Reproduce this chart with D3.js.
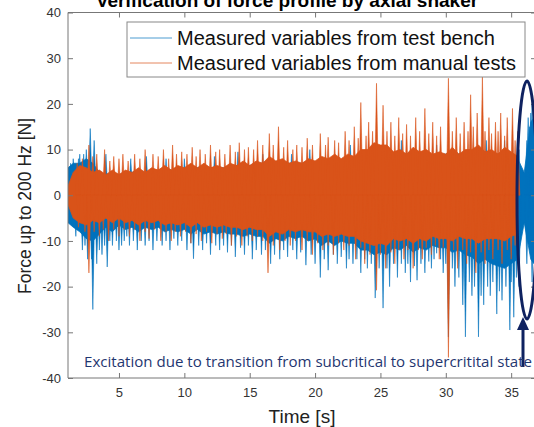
<!DOCTYPE html>
<html><head><meta charset="utf-8">
<script src="https://cdn.jsdelivr.net/npm/d3@7"></script>
<style>
html,body{margin:0;padding:0;background:#fff;overflow:hidden}
text{font-family:"Liberation Sans",Arial,sans-serif}
</style></head>
<body><svg id="c" width="534" height="427"></svg>
<script>
// ---------- data ----------
const xTicks = [5, 10, 15, 20, 25, 30, 35];
const yTicks = [-40, -30, -20, -10, 0, 10, 20, 30, 40];
const seriesNames = ["Measured variables from test bench", "Measured variables from manual tests"];

// envelope sample times [s]
const envTime = [1.1,1.5,2,2.5,3,3.5,4,4.5,5,5.5,6,6.5,7,7.5,8,8.5,9,9.5,10,10.5,11,11.5,12,12.5,13,13.5,14,14.5,15,15.5,16,16.5,17,17.5,18,18.5,19,19.5,20,20.5,21,21.5,22,22.5,23,23.5,24,24.5,25,25.5,26,26.5,27,27.5,28,28.5,29,29.5,30,30.5,31,31.5,32,32.5,33,33.5,34,34.5,35,35.5,36,36.5,37];

// test bench (blue) dense band
const benchUpper = [6,7,7,8,7,5,4.5,5,4.5,5, 5,5.5,5,5.5,5,6,5.5,6,5.5,6.5, 6,6.5,6,6,6,6.5,6.5,7,6.5,7, 7,8,7,7.5,7,7,7,7.5,7,8, 7.5,8.5,7.5,8.5,8,9,9.5,10.5,10.5,10, 9,9.5,9,10,9,9.5,8.5,9,9,10, 9,9.5,9.5,10.5,9.5,9.5,9,10,9,8, 5,16,18];
const benchLower = [-6,-7,-8,-9.5,-10,-8.5,-7,-8,-6.5,-7.5, -7,-8,-7,-7.5,-7,-8,-7.5,-8,-7.5,-8.5, -7.5,-8.5,-8,-8.5,-8,-8.5,-8.5,-9,-8.5,-9, -9,-10.5,-9.5,-10,-9,-9.5,-9,-10,-9.5,-11, -10,-11,-10,-10.5,-10.5,-12,-12,-13,-12.5,-13, -11.5,-12,-11,-12.5,-11.5,-12,-11,-11.5,-11.5,-12.5, -12,-13,-13.5,-15,-14,-15,-15.5,-16,-15,-14, -6,-14,-16];
// manual tests (orange) dense band
const manualUpper = [2,5,6.5,6,5,5.5,4.5,5.5,4.5,5.5, 5,6,5,6,5.5,6.5,5.5,6.5,6,7, 6,7,6,6.5,6,7,6.5,7.5,6.5,7.5, 7,8.5,7.5,8,7,7.5,7,8,7.5,8.5, 8,9,8,9,8.5,10,10,11.5,11,11, 9.5,10,9,10.5,9.5,10,9,9.5,9,10.5, 9,10,10,11,9.5,10,9,10.5,9.5,8.5, null,null,null];
const manualLower = [-2,-5,-6,-6.5,-5.5,-6,-5,-6,-5,-6, -5.5,-6.5,-5.5,-6,-5.5,-6.5,-6,-6.5,-6,-7, -6,-7,-6.5,-7,-6.5,-7,-7,-7.5,-7,-7.5, -7.5,-9,-8,-8.5,-7.5,-8,-7.5,-8,-8,-9, -8.5,-9,-8.5,-9,-9,-10,-10.5,-11,-10.5,-11, -9.5,-10,-9.5,-10.5,-9.5,-10,-9,-9.5,-9.5,-10, -9,-9.5,-9.5,-10.5,-9.5,-9.5,-9.5,-10,-9,-8.5, null,null,null];

// individual peaks [time, value]
const benchPeaks = [[1.3,7],[1.5,8],[1.9,8],[2.0,9],[2.3,9],[2.5,10],[2.8,14.6],[3.1,12],[4.0,9],[5.9,8],[7.1,8.5],[8.6,8],[10.0,8],[12.3,8.5],[14.1,9.5],[16.0,9],[18.2,9],[19.6,10],[22.7,11],[26.6,12],[29.3,11],[33.1,12],[34.5,12],[35.6,10],[36.2,12],[36.3,17],[36.4,15],[36.5,18],[36.6,20],[36.7,17],[36.8,19],
 [1.7,-9],[2.2,-12],[2.4,-11],[2.6,-14],[2.9,-14],[3.0,-25],[3.3,-15],[3.5,-12],[3.7,-13],[3.9,-11],[4.1,-15.7],[4.3,-10],[4.5,-11],[4.8,-10],[5.0,-12],[5.2,-11],[5.4,-10],[5.6,-9],[5.8,-11],[6.1,-10],[6.4,-12],[6.7,-10],[7.0,-11],[7.3,-10],[7.6,-12],[7.9,-10],[8.3,-11],[8.6,-10],[8.9,-12],[9.2,-9.5],[9.5,-11],[9.8,-10],[10.2,-12],[10.5,-10.5],[10.7,-13.9],[11.1,-11],[11.4,-12],[11.7,-10.5],[12.0,-13],[12.4,-11],[12.7,-12],[13.0,-11],[13.3,-12.5],[13.6,-11],[13.9,-13.5],[14.3,-11.5],[14.6,-13],[14.9,-11],[15.2,-14],[15.5,-12],[15.9,-13],[16.2,-12],[16.6,-15],[16.9,-13],[17.3,-14],[17.6,-12],[17.9,-13.5],[18.3,-12],[18.6,-14],[18.9,-12.5],[19.3,-15.3],[19.7,-13],[20.0,-15],[20.4,-18],[20.7,-14],[21.0,-16.4],[21.4,-13],[21.7,-15],[22.0,-13.5],[22.4,-16],[22.6,-14],[22.9,-15],[23.2,-14],[23.5,-17],[23.8,-14],[24.0,-16],[24.3,-15],[24.6,-22.5],[24.9,-16],[25.2,-24.7],[25.5,-16],[25.7,-20],[26.0,-15],[26.3,-18],[26.6,-15],[26.9,-17],[27.1,-15],[27.3,-19],[27.6,-15.5],[27.8,-18.6],[28.1,-15],[28.4,-17],[28.7,-14.5],[28.9,-16],[29.1,-14],[29.3,-12.7],[29.6,-14],[29.8,-17],[30.0,-15],[30.2,-31],[30.5,-16],[30.7,-20],[31.0,-18],[31.3,-24],[31.5,-31],[31.8,-19],[32.0,-22],[32.2,-20],[32.5,-31],[32.7,-22],[32.9,-24],[33.2,-20],[33.4,-22],[33.6,-19],[33.9,-26],[34.1,-21],[34.3,-23],[34.6,-20],[34.9,-29.5],[35.0,-19],[35.2,-26.7],[35.4,-18],[35.6,-20],[36.2,-15],[36.6,-19],[36.8,-17]];
const manualPeaks = [[1.8,7],[2.2,8],[2.7,11],[3.0,8.5],[3.3,9],[3.9,10],[4.3,7.5],[4.6,8.5],[5.0,8],[5.3,9],[5.7,7.5],[6.2,9],[6.6,8],[7.0,10],[7.6,9],[8.0,8.5],[8.4,10],[8.8,8],[9.1,11],[9.4,9],[9.8,9.5],[10.2,9],[10.6,10.5],[10.9,8.5],[11.2,10],[11.6,9],[12.0,11],[12.4,9.5],[12.7,10],[13.1,9],[13.5,11],[13.9,9.5],[14.2,11.5],[14.6,10],[14.9,10.5],[15.3,10],[15.6,12],[16.0,11],[16.5,13.5],[16.8,11],[17.2,15],[17.6,10.5],[17.9,12],[18.3,10],[18.6,11],[19.0,10.5],[19.4,12.5],[19.8,11],[20.4,13.5],[20.8,11],[21.0,12.7],[21.5,12],[21.8,11.5],[22.3,14],[22.6,12],[23.0,15],[23.3,12.5],[23.5,20.3],[23.9,13],[24.1,16],[24.4,14],[24.7,24.5],[25.2,19.7],[25.5,14],[25.8,16],[26.1,13],[26.4,17],[26.7,13.5],[27.0,15.5],[27.3,13],[27.7,17],[28.0,14],[28.4,19],[28.7,13.5],[29.0,16],[29.3,13],[29.6,15],[30.2,25.6],[30.5,14],[30.8,17],[31.1,13.5],[31.4,16],[31.7,14],[31.9,22],[32.1,15],[32.4,18],[32.8,26],[33.0,14],[33.3,17],[33.5,13.5],[33.8,16],[34.0,14],[34.2,18],[34.5,13],[34.7,17],[35.1,19],[35.3,12],[35.5,14],
 [1.9,-7],[2.4,-8],[2.7,-17],[3.1,-8],[3.5,-9],[3.8,-7.5],[4.2,-10],[4.6,-7.5],[5.0,-9],[5.4,-7.5],[5.8,-9],[6.2,-7.5],[6.6,-10],[7.0,-8],[7.3,-9.5],[7.7,-7.5],[8.2,-10],[8.6,-8],[9.0,-10],[9.3,-8],[9.7,-9],[10.1,-8],[10.5,-10.5],[10.9,-8.5],[11.3,-10],[11.7,-8],[12.1,-10.5],[12.5,-8.5],[12.9,-9.5],[13.2,-8.5],[13.6,-11],[14.0,-9],[14.4,-11],[14.8,-9],[15.2,-10],[15.6,-9],[16.0,-10],[16.4,-17],[16.8,-11],[17.3,-12],[17.7,-10],[18.1,-11],[18.5,-10],[19.0,-12],[19.4,-10],[19.8,-13],[20.2,-10.5],[20.6,-12],[21.0,-11],[21.4,-13],[21.8,-10.5],[22.2,-12],[22.6,-11],[23.1,-14],[23.5,-11.5],[23.8,-15],[24.2,-13],[24.7,-20.8],[25.0,-13],[25.4,-16],[25.8,-12.5],[26.1,-15],[26.4,-12],[26.8,-14],[27.1,-12],[27.5,-16],[27.9,-12],[28.2,-14],[28.5,-11.5],[28.9,-13],[29.2,-11],[29.5,-14],[29.8,-11.5],[30.2,-35.5],[30.6,-12],[30.9,-16],[31.3,-12],[31.6,-15],[31.9,-12.5],[32.3,-17],[32.7,-12.5],[33.0,-15],[33.3,-12],[33.6,-14],[34.0,-12],[34.3,-15],[34.7,-12],[35.0,-14],[35.3,-11]];

const titleText = "Verification of force profile by axial shaker";
const xLabel = "Time [s]";
const yLabel = "Force up to 200 Hz [N]";
const noteText = "Excitation due to transition from subcritical to supercritital state";

// ---------- drawing ----------
const BLUE = "#0072BD", ORANGE = "#D95319", NAVY = "#0f2260", AX = "#777";
const svg = d3.select("#c");
const L = 68, R = 536, T = 12.5, B = 378;
const x = d3.scaleLinear().domain([1.1, 36.9]).range([L, R]);
const y = d3.scaleLinear().domain([-40, 40]).range([B, T]);

svg.append("defs").append("clipPath").attr("id","pc")
  .append("rect").attr("x",L).attr("y",T).attr("width",R-L).attr("height",B-T);
const plot = svg.append("g").attr("clip-path","url(#pc)");

function band(up, lo, color){
  const data = envTime.map((t,i)=>({t, u:up[i], l:lo[i]}));
  plot.append("path").datum(data)
    .attr("d", d3.area().defined(d=>d.u!=null).x(d=>x(d.t)).y0(d=>y(d.l)).y1(d=>y(d.u)).curve(d3.curveLinear))
    .attr("fill", color).attr("stroke", color).attr("stroke-width",0.8);
}
const W = 0.16; // half width of a peak wedge, in seconds
function peaks(list, color){
  plot.append("g").selectAll("path").data(list).join("path")
    .attr("d", d=>`M${x(d[0]-W)},${y(0)}L${x(d[0])},${y(d[1])}L${x(d[0]+W)},${y(0)}Z`)
    .attr("fill", color).attr("stroke", color).attr("stroke-width", 0.7)
    .attr("stroke-opacity",0.8).attr("stroke-linejoin","round");
}
band(benchUpper, benchLower, BLUE);
peaks(benchPeaks, BLUE);
band(manualUpper, manualLower, ORANGE);
peaks(manualPeaks, ORANGE);

// axes box
const ax = svg.append("g");
ax.append("line").attr("x1",L).attr("x2",L).attr("y1",T).attr("y2",B).attr("stroke",AX);
ax.append("line").attr("x1",R).attr("x2",R).attr("y1",T).attr("y2",B).attr("stroke",AX);
ax.append("line").attr("x1",L).attr("x2",R).attr("y1",B).attr("y2",B).attr("stroke",AX);
ax.append("line").attr("x1",L).attr("x2",R).attr("y1",T).attr("y2",T).attr("stroke",AX);
const fmt = d => String(d);
const xa = svg.append("g").attr("transform",`translate(0,${B})`)
  .call(d3.axisBottom(x).tickValues(xTicks).tickSize(-5).tickPadding(10).tickFormat(fmt));
const xt = svg.append("g").attr("transform",`translate(0,${T})`)
  .call(d3.axisTop(x).tickValues(xTicks).tickSize(-5).tickFormat(""));
const ya = svg.append("g").attr("transform",`translate(${L},0)`)
  .call(d3.axisLeft(y).tickValues(yTicks).tickSize(-5).tickPadding(7).tickFormat(fmt));
const yr = svg.append("g").attr("transform",`translate(${R},0)`)
  .call(d3.axisRight(y).tickValues(yTicks).tickSize(-5).tickFormat(""));
[xa,xt,ya,yr].forEach(g=>{
  g.select(".domain").remove();
  g.selectAll(".tick line").attr("stroke",AX);
  g.selectAll(".tick text").attr("fill","#333").style("font-size","13px").style("font-family","Liberation Sans, Arial");
});

// labels
svg.append("text").attr("x",302).attr("y",423).attr("text-anchor","middle")
  .style("font-size","19px").attr("fill","#222").text(xLabel);
svg.append("text").attr("transform","translate(31,206) rotate(-90)").attr("text-anchor","middle")
  .style("font-size","17.5px").attr("fill","#222").text(yLabel);
svg.append("text").attr("x",287).attr("y",7).attr("text-anchor","middle")
  .style("font-size","19px").style("font-weight","bold").attr("fill","#000").text(titleText);

// legend
const lg = svg.append("g");
lg.append("rect").attr("x",127).attr("y",22).attr("width",398).attr("height",55)
  .attr("fill","#fff").attr("stroke","#888").attr("stroke-width",1);
seriesNames.forEach((n,i)=>{
  const yy = 38 + i*25;
  lg.append("line").attr("x1",130).attr("x2",172).attr("y1",yy).attr("y2",yy)
    .attr("stroke", i===0?BLUE:ORANGE).attr("stroke-width",1).attr("stroke-opacity",0.7);
  lg.append("text").attr("x",177).attr("y",yy+7).style("font-size","20px").attr("fill","#111").text(n);
});

// annotation
svg.append("ellipse").attr("cx",527).attr("cy",200).attr("rx",10).attr("ry",119)
  .attr("fill","none").attr("stroke",NAVY).attr("stroke-width",3);
svg.append("line").attr("x1",523).attr("x2",523).attr("y1",367).attr("y2",328)
  .attr("stroke",NAVY).attr("stroke-width",3);
svg.append("path").attr("d","M517,330 L523,317 L529,330 Z").attr("fill",NAVY);
svg.append("text").attr("x",84).attr("y",367).style("font-size","14px")
  .style("font-family","Open Sans, Noto Sans, sans-serif")
  .attr("textLength",448).attr("lengthAdjust","spacingAndGlyphs")
  .attr("fill","#1f3670").text(noteText);
</script></body></html>
